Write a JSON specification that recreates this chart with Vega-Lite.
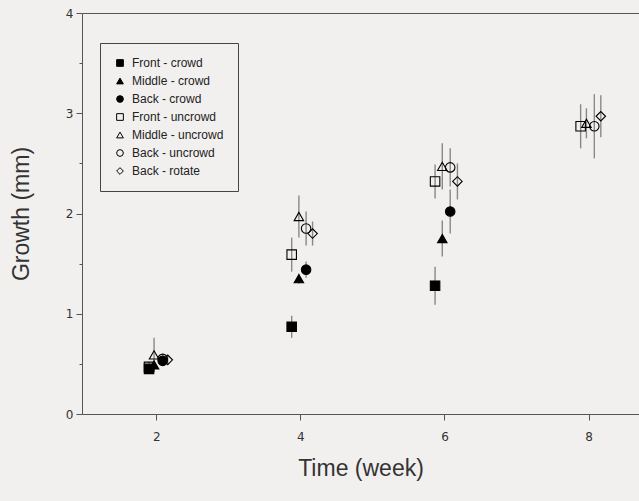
{
  "$schema": "https://vega.github.io/schema/vega-lite/v6.json",
  "width": 557,
  "height": 401,
  "autosize": "none",
  "padding": {"left": 82, "top": 13, "right": 0, "bottom": 87},
  "background": "#f2f0ef",
  "config": {
    "view": {"stroke": null},
    "font": "Liberation Sans",
    "axis": {"domainColor": "#555", "tickColor": "#555", "labelColor": "#333", "titleColor": "#333", "titleFontWeight": "normal", "labelFont": "DejaVu Sans"}
  },
  "data": {
    "values": [
      {"series": "Front - crowd", "t": 1.9, "g": 0.45, "lo": 0.41, "hi": 0.49},
      {"series": "Front - crowd", "t": 3.88, "g": 0.87, "lo": 0.76, "hi": 0.98},
      {"series": "Front - crowd", "t": 5.87, "g": 1.28, "lo": 1.09, "hi": 1.47},
      {"series": "Middle - crowd", "t": 1.97, "g": 0.49, "lo": 0.45, "hi": 0.53},
      {"series": "Middle - crowd", "t": 3.98, "g": 1.35, "lo": 1.3, "hi": 1.4},
      {"series": "Middle - crowd", "t": 5.97, "g": 1.75, "lo": 1.57, "hi": 1.93},
      {"series": "Back - crowd", "t": 2.09, "g": 0.53, "lo": 0.48, "hi": 0.58},
      {"series": "Back - crowd", "t": 4.08, "g": 1.44, "lo": 1.36, "hi": 1.52},
      {"series": "Back - crowd", "t": 6.08, "g": 2.02, "lo": 1.8, "hi": 2.24},
      {"series": "Front - uncrowd", "t": 1.9, "g": 0.47, "lo": 0.42, "hi": 0.52},
      {"series": "Front - uncrowd", "t": 3.88, "g": 1.59, "lo": 1.42, "hi": 1.76},
      {"series": "Front - uncrowd", "t": 5.87, "g": 2.32, "lo": 2.15, "hi": 2.49},
      {"series": "Front - uncrowd", "t": 7.89, "g": 2.87, "lo": 2.65, "hi": 3.09},
      {"series": "Middle - uncrowd", "t": 1.97, "g": 0.59, "lo": 0.42, "hi": 0.76},
      {"series": "Middle - uncrowd", "t": 3.98, "g": 1.97, "lo": 1.76, "hi": 2.18},
      {"series": "Middle - uncrowd", "t": 5.97, "g": 2.47, "lo": 2.24, "hi": 2.7},
      {"series": "Middle - uncrowd", "t": 7.97, "g": 2.9, "lo": 2.75, "hi": 3.05},
      {"series": "Back - uncrowd", "t": 2.09, "g": 0.55, "lo": 0.5, "hi": 0.6},
      {"series": "Back - uncrowd", "t": 4.08, "g": 1.85, "lo": 1.68, "hi": 2.02},
      {"series": "Back - uncrowd", "t": 6.08, "g": 2.46, "lo": 2.27, "hi": 2.65},
      {"series": "Back - uncrowd", "t": 8.08, "g": 2.87, "lo": 2.55, "hi": 3.19},
      {"series": "Back - rotate", "t": 2.16, "g": 0.54, "lo": 0.49, "hi": 0.59},
      {"series": "Back - rotate", "t": 4.17, "g": 1.8, "lo": 1.68, "hi": 1.92},
      {"series": "Back - rotate", "t": 6.18, "g": 2.32, "lo": 2.14, "hi": 2.5},
      {"series": "Back - rotate", "t": 8.17, "g": 2.97, "lo": 2.76, "hi": 3.18}
    ]
  },
  "resolve": {"axis": {"x": "independent"}},
  "layer": [
    {
      "mark": {"type": "rule", "color": "#888", "strokeWidth": 1.4},
      "encoding": {
        "x": {
          "field": "t", "type": "quantitative",
          "scale": {"domain": [0.97, 8.7], "nice": false, "zero": false},
          "axis": {"orient": "bottom", "values": [2, 4, 6, 8], "format": "d", "tickSize": 6, "labelFontSize": 12, "labelPadding": 11, "title": "Time (week)", "titleFontSize": 23, "titlePadding": 15, "titleFont": "Liberation Sans", "grid": false}
        },
        "y": {
          "field": "lo", "type": "quantitative",
          "scale": {"domain": [0, 4], "nice": false},
          "axis": {
            "values": [0, 0.5, 1, 1.5, 2, 2.5, 3, 3.5, 4],
            "labelExpr": "datum.value % 1 === 0 ? format(datum.value, 'd') : ''",
            "tickSize": {"condition": {"test": "datum.value % 1 !== 0", "value": 3}, "value": 6},
            "labelFontSize": 12, "labelPadding": 3, "grid": false,
            "title": "Growth (mm)", "titleFontSize": 23, "titlePadding": 32, "titleFont": "Liberation Sans"
          }
        },
        "y2": {"field": "hi"}
      }
    },
    {
      "mark": {"type": "point", "size": 90, "stroke": "black", "strokeWidth": 1.1, "opacity": 1},
      "encoding": {
        "x": {"field": "t", "type": "quantitative", "axis": {"orient": "top", "ticks": false, "labels": false, "title": null, "grid": false}},
        "y": {"field": "g", "type": "quantitative"},
        "shape": {
          "field": "series", "type": "nominal",
          "scale": {
            "domain": ["Front - crowd", "Middle - crowd", "Back - crowd", "Front - uncrowd", "Middle - uncrowd", "Back - uncrowd", "Back - rotate"],
            "range": ["square", "triangle-up", "circle", "square", "triangle-up", "circle", "diamond"]
          },
          "legend": {
            "title": null, "orient": "none", "legendX": 18, "legendY": 30,
            "labelFontSize": 12, "labelColor": "#222", "symbolSize": 45, "symbolStrokeWidth": 1,
            "rowPadding": 6, "padding": 14, "strokeColor": "#444", "labelOffset": 6
          }
        },
        "fill": {
          "field": "series", "type": "nominal",
          "scale": {
            "domain": ["Front - crowd", "Middle - crowd", "Back - crowd", "Front - uncrowd", "Middle - uncrowd", "Back - uncrowd", "Back - rotate"],
            "range": ["black", "black", "black", "transparent", "transparent", "transparent", "transparent"]
          },
          "legend": {
            "title": null, "orient": "none", "legendX": 18, "legendY": 30,
            "labelFontSize": 12, "labelColor": "#222", "symbolSize": 45, "symbolStrokeWidth": 1,
            "rowPadding": 6, "padding": 14, "strokeColor": "#444", "labelOffset": 6
          }
        }
      }
    }
  ]
}
